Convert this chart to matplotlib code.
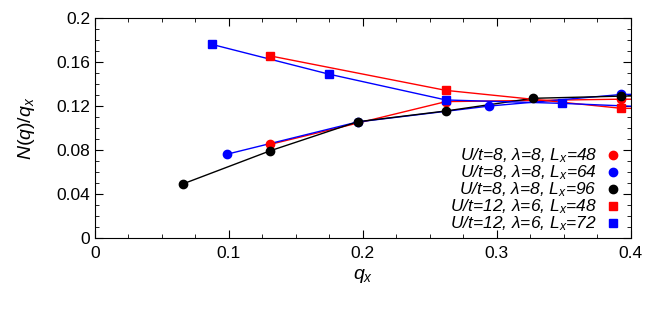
import numpy as np
import matplotlib.pyplot as plt

plt.rcParams['font.family'] = 'Liberation Sans'
plt.rcParams['mathtext.fontset'] = 'custom'
plt.rcParams['mathtext.rm'] = 'Liberation Sans'
plt.rcParams['mathtext.it'] = 'Liberation Sans:italic'

# data (last point of each series lies past the axis edge)
q48 = [0.131, 0.262, 0.393, 0.524]
n48_u8 = [0.0852, 0.124, 0.1262, 0.126]
q64 = [0.0982, 0.196, 0.2945, 0.393, 0.491]
n64_u8 = [0.0761, 0.1055, 0.120, 0.1305, 0.132]
q96 = [0.0654, 0.131, 0.196, 0.262, 0.327, 0.393, 0.458]
n96_u8 = [0.0491, 0.0794, 0.1057, 0.1155, 0.127, 0.129, 0.130]
n48_u12 = [0.1655, 0.1342, 0.1179, 0.117]
q72 = [0.0873, 0.1745, 0.262, 0.349, 0.436]
n72_u12 = [0.176, 0.149, 0.1255, 0.1224, 0.118]

labels = [r'U/t=8, λ=8, L$_x$=48',
          r'U/t=8, λ=8, L$_x$=64',
          r'U/t=8, λ=8, L$_x$=96',
          r'U/t=12, λ=6, L$_x$=48',
          r'U/t=12, λ=6, L$_x$=72']

fig = plt.figure(figsize=(6.64, 3.10), dpi=100)
ax = fig.add_axes([0.143, 0.232, 0.807, 0.710])

series = [(q48, n48_u8, 'red', 'o'),
          (q64, n64_u8, 'blue', 'o'),
          (q96, n96_u8, 'black', 'o'),
          (q48, n48_u12, 'red', 's'),
          (q72, n72_u12, 'blue', 's')]

handles = []
for (x, y, c, m), lab in zip(series, labels):
    ax.plot(x, y, color=c, lw=1.0, zorder=2)
    ms = 6 if m == 'o' else 5.5
    ax.plot(x, y, ls='none', marker=m, color=c, ms=ms, zorder=3)
    h, = ax.plot([], [], ls='none', marker=m, color=c, ms=ms)
    handles.append(h)

ax.set_xlim(0, 0.4)
ax.set_ylim(0, 0.2)
ax.set_xticks([0, 0.1, 0.2, 0.3, 0.4])
ax.set_xticklabels(['0', '0.1', '0.2', '0.3', '0.4'])
ax.set_yticks([0, 0.04, 0.08, 0.12, 0.16, 0.2])
ax.set_yticklabels(['0', '0.04', '0.08', '0.12', '0.16', '0.2'])
ax.set_xticks(np.arange(0, 0.401, 0.025), minor=True)
ax.set_yticks(np.arange(0, 0.201, 0.01), minor=True)
ax.tick_params(which='both', direction='in', top=True, right=True, labelsize=12.5)
ax.tick_params(which='major', length=6)
ax.tick_params(which='minor', length=3)
ax.tick_params(axis='x', pad=6)

ax.set_xlabel(r'$q_x$', fontsize=14)
ax.set_ylabel(r'$N(q)/q_x$', fontsize=14, labelpad=14)

ax.legend(handles, labels, loc='lower right', frameon=False, markerfirst=False,
          prop={'style': 'italic', 'size': 12.5}, handlelength=0.8,
          handletextpad=0.5, labelspacing=-0.1, borderaxespad=0.0,
          bbox_to_anchor=(0.992, -0.01))

fig.savefig('out.png', dpi=100)
